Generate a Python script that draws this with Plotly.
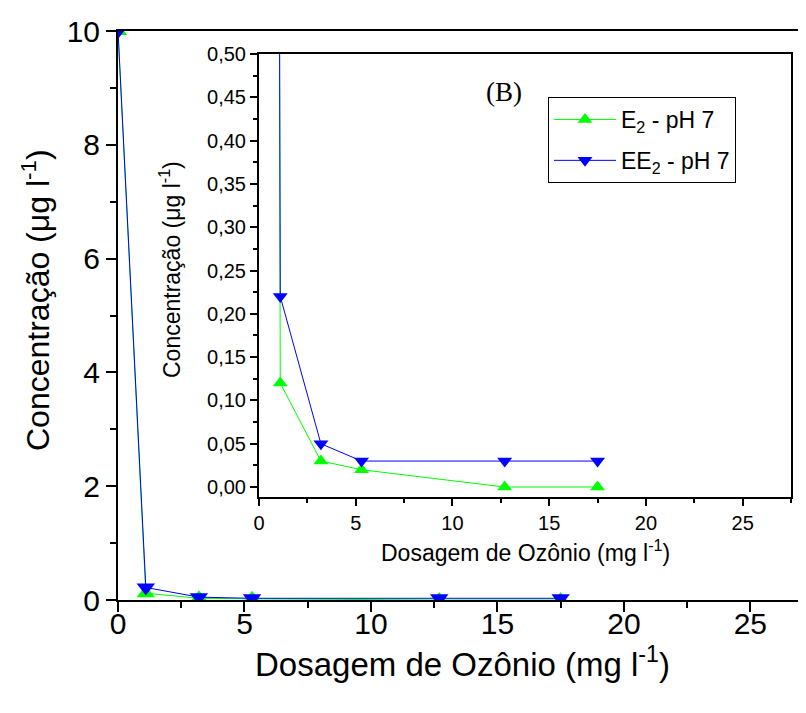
import plotly.graph_objects as go

# Data
dose = [0, 1.1, 3.2, 5.3, 12.7, 17.5]
e2_ph7 = [10.0, 0.12, 0.03, 0.02, 0.0, 0.0]
ee2_ph7 = [10.0, 0.22, 0.05, 0.03, 0.03, 0.03]
series_names = ["E<sub>2</sub> - pH 7", "EE<sub>2</sub> - pH 7"]
green = "#00FF00"
blue = "#0000FF"

# The page body adds an 8px offset; the figure is sized so that it fills the window.
OFF = 8
W, H = 806 - OFF, 713 - OFF
FONT = "Liberation Sans, Arial, sans-serif"

fig = go.Figure()

# Main plot
fig.add_trace(go.Scatter(x=dose, y=e2_ph7, mode="lines+markers", name=series_names[0],
                         line=dict(color=green, width=1),
                         marker=dict(symbol="triangle-up", size=16, color=green),
                         xaxis="x", yaxis="y", showlegend=False))
fig.add_trace(go.Scatter(x=dose, y=ee2_ph7, mode="lines+markers", name=series_names[1],
                         line=dict(color=blue, width=1),
                         marker=dict(symbol="triangle-down", size=16, color=blue),
                         xaxis="x", yaxis="y", showlegend=False))
# Inset
fig.add_trace(go.Scatter(x=dose, y=e2_ph7, mode="lines+markers", name=series_names[0],
                         line=dict(color=green, width=1), legendgroup="e2",
                         marker=dict(symbol="triangle-up", size=13, color=green),
                         xaxis="x2", yaxis="y2"))
fig.add_trace(go.Scatter(x=dose, y=ee2_ph7, mode="lines+markers", name=series_names[1],
                         line=dict(color=blue, width=1), legendgroup="ee2",
                         marker=dict(symbol="triangle-down", size=13, color=blue),
                         xaxis="x2", yaxis="y2"))

def px_x(p):
    return (p - OFF) / W

def px_y(p):
    return 1 - (p - OFF) / H

axis_common = dict(showline=True, linecolor="black", linewidth=2, mirror=True,
                   showgrid=False, zeroline=False, ticks="outside", tickcolor="black",
                   tickwidth=2, automargin=False)

fig.update_layout(
    template="none",
    width=W, height=H,
    margin=dict(l=0, r=0, t=0, b=0, pad=0, autoexpand=False),
    paper_bgcolor="white", plot_bgcolor="white",
    separators=",.",
    font=dict(family=FONT, color="black"),
    xaxis=dict(domain=[px_x(118), 1.0], range=[0, 27.2], dtick=5, tick0=0,
               ticklen=10, tickfont=dict(size=30, family=FONT), ticklabelstandoff=-14,
               minor=dict(dtick=2.5, ticks="outside", ticklen=6, tickcolor="black", tickwidth=2),
               anchor="y", **axis_common),
    yaxis=dict(domain=[px_y(600), px_y(31)], range=[0, 10], dtick=2, tick0=0,
               ticklen=10, tickfont=dict(size=30, family=FONT),
               minor=dict(dtick=1, ticks="outside", ticklen=6, tickcolor="black", tickwidth=2),
               anchor="x", **axis_common),
    xaxis2=dict(domain=[px_x(259), px_x(791)], range=[0, 27.5], dtick=5, tick0=0,
                ticklen=7, tickfont=dict(size=20, family=FONT),
                minor=dict(dtick=2.5, ticks="outside", ticklen=4, tickcolor="black", tickwidth=2),
                anchor="y2", **axis_common),
    yaxis2=dict(domain=[px_y(497), px_y(54)], range=[-0.0115, 0.5], dtick=0.05, tick0=0,
                tickformat=".2f", ticklen=7, tickfont=dict(size=20, family=FONT),
                minor=dict(dtick=0.025, ticks="outside", ticklen=4, tickcolor="black", tickwidth=2),
                anchor="x2", **axis_common),
    legend=dict(x=px_x(548), y=px_y(97), xanchor="left", yanchor="top",
                bgcolor="white", bordercolor="black", borderwidth=1,
                font=dict(size=23, family=FONT), tracegroupgap=8, itemwidth=62),
    showlegend=True,
)

annotations = [
    dict(text="Dosagem de Ozônio (mg l<sup>-1</sup>)", x=px_x(462), y=px_y(662),
         xref="paper", yref="paper", showarrow=False, font=dict(size=33, family=FONT),
         xanchor="center", yanchor="middle"),
    dict(text="Concentração (μg l<sup>-1</sup>)", x=px_x(36), y=px_y(300),
         xref="paper", yref="paper", showarrow=False, font=dict(size=32, family=FONT),
         textangle=-90, xanchor="center", yanchor="middle"),
    dict(text="Dosagem de Ozônio (mg l<sup>-1</sup>)", x=px_x(525), y=px_y(551),
         xref="paper", yref="paper", showarrow=False, font=dict(size=23, family=FONT),
         xanchor="center", yanchor="middle"),
    dict(text="Concentração (μg l<sup>-1</sup>)", x=px_x(170), y=px_y(270),
         xref="paper", yref="paper", showarrow=False, font=dict(size=23, family=FONT),
         textangle=-90, xanchor="center", yanchor="middle"),
    dict(text="(B)", x=px_x(504), y=px_y(92),
         xref="paper", yref="paper", showarrow=False,
         font=dict(size=27, family="Liberation Serif, Times New Roman, serif"),
         xanchor="center", yanchor="middle"),
]
fig.update_layout(annotations=annotations)

fig.write_html("out.html")
